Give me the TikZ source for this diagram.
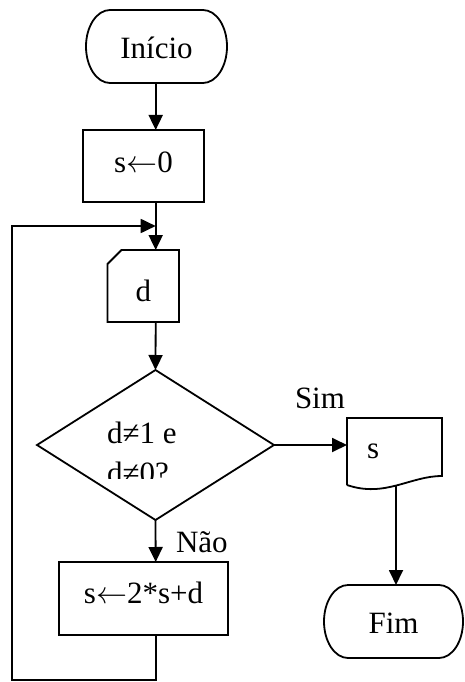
\RequirePackage{fix-cm}
\documentclass[tikz,border=0pt]{standalone}
\usepackage{fontspec}
\setmainfont{Liberation Serif}
\usetikzlibrary{arrows.meta,calc}
\newcommand{\asgn}{\ensuremath{{\leftarrow}}}
\begin{document}
\begin{tikzpicture}[x=1pt,y=1pt, line width=1.8pt, line join=miter,
  every node/.style={font=\fontsize{31}{40}\selectfont, inner sep=0pt, outer sep=0pt},
  bl/.style={text height=#1, text depth=0pt},
  arr/.style={-{Triangle[length=15pt,width=14pt]}},
  term/.style={minimum width=141pt, minimum height=73pt},
  procbox/.style={draw, rectangle}
  ]
\useasboundingbox (0,0) rectangle (464,-682);

% column of the main flow and loop corner
\coordinate (col) at (155.7,0);
\coordinate (loopL) at (12,-680);
\coordinate (join) at (155.7,-226);

% Start terminal
\node[term, bl=25pt] (start) at (156.5,-46.5) {Início};
\draw ([xshift=24pt]start.north west) -- ([xshift=-24pt]start.north east)
  arc[start angle=90,end angle=-90,x radius=24pt,y radius=36.5pt]
  -- ([xshift=24pt]start.south west)
  arc[start angle=270,end angle=90,x radius=24pt,y radius=36.5pt] -- cycle;

% s <- 0
\node[procbox, minimum width=121pt, minimum height=72pt, bl=12pt] (init) at (143.5,-166) {s\asgn0};

% manual input d (card shape)
\node[minimum width=71.5pt, minimum height=72pt, bl=31pt] (d) at (143.25,-286) {d};
\draw ([xshift=14pt]d.north west) -- (d.north east) -- (d.south east) -- (d.south west)
  -- ([yshift=-14pt]d.north west) -- cycle;

% decision
\node[minimum width=237pt, minimum height=150pt] (dec) at (155.5,-445) {};
\draw (dec.north) -- (dec.east) -- (dec.south) -- (dec.west) -- cycle;
\begin{scope}
  \clip (0,-300) rectangle (464,-478);
  \node[anchor=base west] (dec1) at (107,-443) {d≠1 e};
  \node[anchor=base west] (dec2) at (107,-483) {d≠0?};
\end{scope}

% output document s
\node[minimum width=95pt, minimum height=67pt, bl=13pt] (out) at (394.5,-451.5) {\makebox[55pt][l]{s}};
\draw (out.south west) -- (out.north west) -- (out.north east) -- ([yshift=9pt]out.south east)
  .. controls ($(out.south west)+(63,9)$) and ($(out.south west)+(38,-13)$) .. (out.south west);

% s <- 2*s+d
\node[procbox, minimum width=169pt, minimum height=73pt, bl=9pt] (calc) at (143.5,-598.5) {s\asgn2*s+d};

% end terminal
\node[minimum width=139pt, minimum height=73pt, bl=23pt] (fim) at (393.5,-621.5) {Fim};
\draw ([xshift=24pt]fim.north west) -- ([xshift=-24pt]fim.north east)
  arc[start angle=90,end angle=-90,x radius=24pt,y radius=36.5pt]
  -- ([xshift=24pt]fim.south west)
  arc[start angle=270,end angle=90,x radius=24pt,y radius=36.5pt] -- cycle;

% labels
\node[anchor=base west] (sim) at (295,-408) {Sim};
\node[anchor=base west] (nao) at (176,-552.7) {Não};

% connectors
\draw[arr] (col |- start.south) -- (col |- init.north);
\draw[arr] (col |- init.south) -- (col |- d.north);
\draw[arr] (col |- d.south) -- (dec.north);
\draw[arr] (dec.east) -- (dec.east -| out.west);
\draw[arr] ([xshift=1.5pt,yshift=-1pt]out.south) -- ([xshift=1.5pt]out.south |- fim.north);
\draw[arr] (dec.south) -- (col |- calc.north);
\draw[arr] (col |- calc.south) -- (col |- loopL) -- (loopL) -- (loopL |- join) -- (join);
\end{tikzpicture}
\end{document}
